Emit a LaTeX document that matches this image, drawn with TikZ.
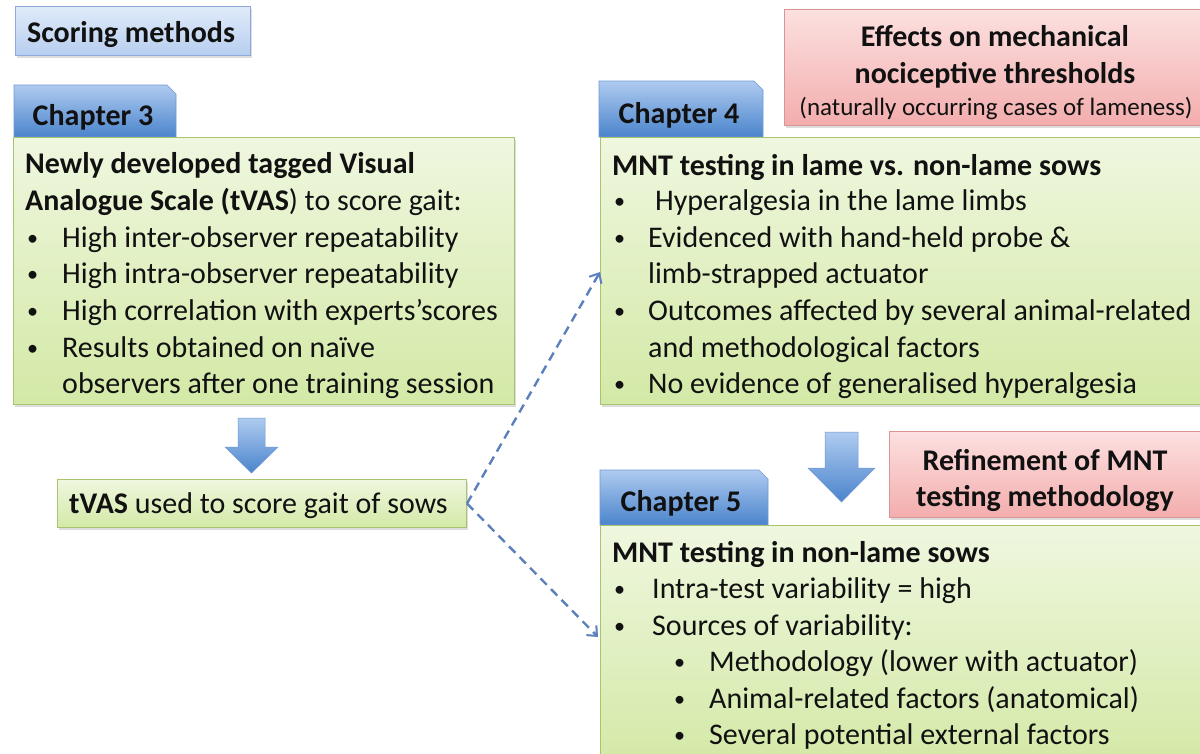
\documentclass[tikz,border=0pt]{standalone}
\usepackage{fontspec}
\setmainfont{Carlito}
\usetikzlibrary{arrows.meta,shadows}
\definecolor{greentop}{HTML}{EFF7DF}
\definecolor{greenbot}{HTML}{D3E9A6}
\definecolor{greenedge}{HTML}{A9C470}
\definecolor{bluetop}{HTML}{AFCBF0}
\definecolor{bluebot}{HTML}{4A84CC}
\definecolor{blueedge}{HTML}{6F98D2}
\definecolor{lbtop}{HTML}{E0EBF9}
\definecolor{lbbot}{HTML}{B7CEF0}
\definecolor{lbedge}{HTML}{8CA9DA}
\definecolor{redtop}{HTML}{FCE0E0}
\definecolor{redbot}{HTML}{F3ADAD}
\definecolor{rededge}{HTML}{D99595}
\definecolor{dashcol}{HTML}{5B80BC}
\definecolor{ink}{HTML}{111111}
\newcommand{\bul}[1]{\makebox[#1][l]{\raisebox{1.8pt}{\scalebox{0.74}{•}}}}
\begin{document}
\begin{tikzpicture}[x=1pt,y=-1pt,
  shad/.style={drop shadow={shadow xshift=1.5pt,shadow yshift=-2.5pt,opacity=0.22,fill=black!60}},
  greenbox/.style={draw=greenedge,line width=1pt,top color=greentop,bottom color=greenbot,
     shad,anchor=north west,inner sep=0pt},
  redbox/.style={draw=rededge,line width=1pt,top color=redtop,bottom color=redbot,
     shad,anchor=north west,inner sep=0pt},
  lbbox/.style={draw=lbedge,line width=1pt,top color=lbtop,bottom color=lbbot,
     shad,anchor=north west,inner sep=0pt},
  tabshape/.style={draw=blueedge,line width=0.6pt,top color=bluetop,bottom color=bluebot},
  bigarrow/.style={draw=blueedge,line width=0.5pt,top color=bluetop,bottom color=bluebot},
  txt/.style={font=\fontsize{30}{36}\selectfont,text=ink,anchor=base west,inner sep=0pt},
  btxt/.style={txt,font=\fontsize{30}{36}\selectfont\bfseries},
  ctr/.style={anchor=base,inner sep=0pt,text=ink},
  dashline/.style={draw=dashcol,line width=2.4pt,dash pattern=on 9pt off 6pt,
     -{Straight Barb[length=8pt,width=14pt,line width=2pt]}}
]
\useasboundingbox (0,0) rectangle (1200,753);
\clip (0,0) rectangle (1200,753);

% ---------- Scoring methods ----------
\node[lbbox,minimum width=235pt,minimum height=49pt] (scoring) at (15,6) {};
\node[ctr,font=\fontsize{30}{36}\selectfont\bfseries] (scoringtxt) at (131,42) {Scoring methods};

% ---------- Chapter 3 ----------
\shade[tabshape] (14,137) -- (14,85) -- (167,85) -- (176,94) -- (176,137) -- cycle;
\node[ctr,font=\fontsize{30}{36}\selectfont\bfseries] (tab3) at (93,125) {Chapter 3};
\node[greenbox,minimum width=501pt,minimum height=267pt] (ch3) at (13,137) {};
\node[btxt] (c3a) at (25,173) {Newly developed tagged Visual};
\node[txt] (c3b) at (25,210) {\textbf{Analogue Scale (tVAS}) to score gait:};
\node[txt] (c3c) at (27,247) {\bul{35pt}High inter-observer repeatability};
\node[txt] (c3d) at (27,283) {\bul{35pt}High intra-observer repeatability};
\node[txt] (c3e) at (27,320) {\bul{35pt}High correlation with experts’scores};
\node[txt] (c3f) at (27,357) {\bul{35pt}Results obtained on naïve};
\node[txt] (c3g) at (62,393) {observers after one training session};

% ---------- big arrow 1 ----------
\shade[bigarrow] (238,418) -- (265,418) -- (265,447) -- (278,447) -- (251.5,473)
   -- (225,447) -- (238,447) -- cycle;

% ---------- tVAS ----------
\node[greenbox,minimum width=409pt,minimum height=48pt] (tvas) at (57,479) {};
\node[txt] (tvastxt) at (69,513) {\textbf{tVAS} used to score gait of sows};

% ---------- Chapter 4 ----------
\node[redbox,minimum width=421pt,minimum height=116pt] (red1) at (784,9) {};
\node[ctr,font=\fontsize{30}{36}\selectfont\bfseries] (r1a) at (995,46) {Effects on mechanical};
\node[ctr,font=\fontsize{30}{36}\selectfont\bfseries] (r1b) at (995,83) {nociceptive thresholds};
\node[ctr,font=\fontsize{25}{30}\selectfont] (r1c) at (996,115) {(naturally occurring cases of lameness)};

\shade[tabshape] (599,137) -- (599,81) -- (754,81) -- (763,90) -- (763,137) -- cycle;
\node[ctr,font=\fontsize{30}{36}\selectfont\bfseries] (tab4) at (679,123) {Chapter 4};
\node[greenbox,minimum width=615pt,minimum height=267pt] (ch4) at (600,137) {};
\node[btxt] (c4a) at (612,175) {MNT testing in lame vs. non-lame sows};
\node[txt] (c4b) at (614,210) {\bul{41pt}Hyperalgesia in the lame limbs};
\node[txt] (c4c) at (614,247) {\bul{34pt}Evidenced with hand-held probe \&};
\node[txt] (c4d) at (648,283) {limb-strapped actuator};
\node[txt] (c4e) at (614,320) {\bul{34pt}Outcomes affected by several animal-related};
\node[txt] (c4f) at (648,357) {and methodological factors};
\node[txt] (c4g) at (614,393) {\bul{34pt}No evidence of generalised hyperalgesia};

% ---------- big arrow 2 ----------
\shade[bigarrow] (825,432) -- (858,432) -- (858,468) -- (875,468) -- (841.5,502)
   -- (808,468) -- (825,468) -- cycle;

% ---------- Chapter 5 ----------
\node[redbox,minimum width=313pt,minimum height=86pt] (red2) at (889,431) {};
\node[ctr,font=\fontsize{30}{36}\selectfont\bfseries] (r2a) at (1045,470) {Refinement of MNT};
\node[ctr,font=\fontsize{30}{36}\selectfont\bfseries] (r2b) at (1045,506) {testing methodology};

\shade[tabshape] (600,525) -- (600,470) -- (759,470) -- (768,479) -- (768,525) -- cycle;
\node[ctr,font=\fontsize{30}{36}\selectfont\bfseries] (tab5) at (681,511) {Chapter 5};
\node[greenbox,minimum width=615pt,minimum height=240pt] (ch5) at (600,525) {};
\node[btxt] (c5a) at (612,562) {MNT testing in non-lame sows};
\node[txt] (c5b) at (614,598) {\bul{38pt}Intra-test variability = high};
\node[txt] (c5c) at (614,635) {\bul{38pt}Sources of variability:};
\node[txt] (c5d) at (674,671) {\bul{35pt}Methodology (lower with actuator)};
\node[txt] (c5e) at (674,708) {\bul{35pt}Animal-related factors (anatomical)};
\node[txt] (c5f) at (674,744) {\bul{35pt}Several potential external factors};

% ---------- dashed connectors ----------
\coordinate (in4) at (600,272);
\coordinate (in5) at (598,637);
\draw[dashline] (tvas.east) -- (in4);
\draw[dashline] (tvas.east) -- (in5);
\end{tikzpicture}
\end{document}
